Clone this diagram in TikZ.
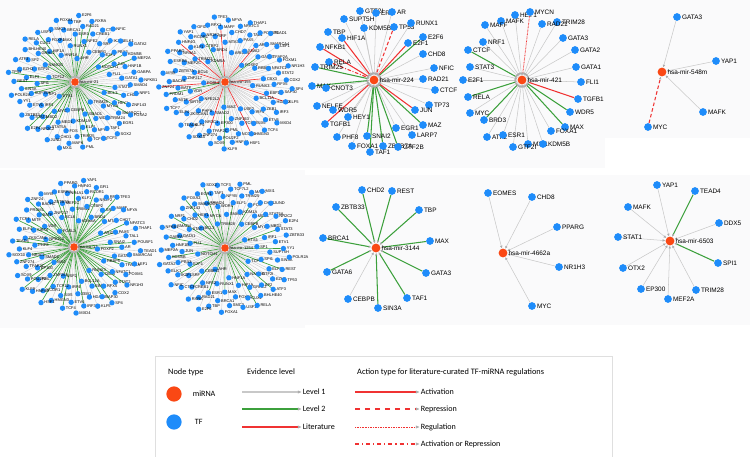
\documentclass[tikz,border=0pt]{standalone}
\usepackage{fontspec}
\setmainfont{Liberation Sans}
\newfontfamily\legfont{Carlito}
\usetikzlibrary{arrows.meta}

\definecolor{mirnacol}{RGB}{250,72,20}
\definecolor{tfcol}{RGB}{30,140,250}
\definecolor{lvlone}{RGB}{200,200,200}
\definecolor{lvltwo}{RGB}{60,160,60}
\definecolor{litred}{RGB}{240,50,50}
\definecolor{panelbg}{RGB}{250,250,251}

\pgfdeclarelayer{bg}
\pgfdeclarelayer{edges}
\pgfsetlayers{bg,edges,main}

% TF names for the big networks
\def\tflistA{ETS1,AHR,TRIM28,TCF12,NOTCH1,CEBPB,HNF1A,BCL3,SP1,CEBPG,
SMAD1,NANOG,FLI1,MYC,RUNX1,MYCN,SPI1,E2F1,KDM1A,HIF1A,
STAT1,IRF1,NFE2,WDR5,GTF2I,JUN,MED1,MAX,HEY1,SUPT5H,
SRF,ELF1,GRHL2,GATA1,MBD2,ESR1,TRIM24,ELF3,PBX3,FOS,
FOXP1,CHD2,ETV1,CREB1,NFYB,SP2,HNF1B,STAT5A,BRCA1,SMARCC1,
SIN3A,IKZF1,TRIM25,CUX1,SMAD4,STAT3,RAD21,TAF1,EZH2,KDM5B,
CHD1,SMC3,ZNF143,YY1,CTCF,TCF7L2,BHLHE40,GABPA,NR2C2,TBP,
EGR1,REST,ELK1,MAFK,USF1,NRF1,ZBTB33,RXRA,TCF3,ATF3,
MEF2A,JUND,FOXA1,FOXA2,POLR2A,NFIC,PML,RELA,NFKB1,E2F4,
E2F6,SOX2,TP53,GATA2,MXI1}
\def\tflistB{FOSL2,FOXP2,MAZ,KDM5A,RUNX3,NFE2L2,ARID3A,USF2,BCL6,RBBP5,
SMAD2,BRD4,BCL11A,VDR,SNAI2,ZNF263,TRIM22,CBX3,PHF8,MTA3,
IRF4,ZNF217,GATA3,EP300,CTBP2,EBF1,SIRT6,PAX5,TCF12,MEF2C,
NFATC1,NR3C1,SRF,ZEB1,BATF,AR,PML,KLF1,RFX5,ZKSCAN1,
CHD7,SIX5,ZBTB7A,TFAP2A,TFAP2C,NR2F2,HDAC2,MITF,TAL1,NCOR1,
NR4A1,STAT2,KLF4,MAFF,ETV6,BACH1,SMARCA4,POU2F2,RCOR1,SAP30,
ELF4,NFATC3,HMGN3,ESRRA,FOXM1,ZNF274,RFX1,IRF3,PRDM1,POU5F1,
HNF4A,HNF4G,CDX2,TEAD4,NFYA,TCF4,MYB,LEF1,SOX9,GFI1,
KLF5,TCF7,THAP1,HSF1,PPARG,NR1H3,SOX10,TFE3,MXD4,ZNF24,
TEAD1,KLF9,YAP1,SP4}

% big network: name, centre, miRNA, list, turn, green every, red every
\newcommand{\hairball}[7]{%
  \node[mirnas,label={[hlbl]right:#3}] (#1) at (#2) {};
  \foreach \n [count=\i] in #4 {
    \pgfmathsetmacro\hbang{#5+137.508*\i}
    \pgfmathsetmacro\hbrad{16+52*sqrt(\i/96)}
    \node[tfs,label={[hlbl]right:\n}] (#1-\i) at ([shift={(\hbang:\hbrad)}]#1) {};
  }
  \begin{pgfonlayer}{edges}
    \foreach \n [count=\i] in #4 {
      \pgfmathtruncatemacro\hbg{mod(\i,#6)}
      \pgfmathtruncatemacro\hbr{mod(\i,#7)}
      \ifnum\hbr=0 \draw[hbred] (#1-\i) -- (#1);
      \else\ifnum\hbg=0 \draw[hbgreen] (#1-\i) -- (#1);
      \else \draw[hbgrey] (#1-\i) -- (#1);
      \fi\fi
    }
  \end{pgfonlayer}
}

\begin{document}
\begin{tikzpicture}[x=0.03cm, y=-0.03cm,
    tf/.style={circle, fill=tfcol, inner sep=0pt, minimum size=6.6pt},
    tfs/.style={circle, fill=tfcol, inner sep=0pt, minimum size=4.6pt},
    mirna/.style={circle, fill=mirnacol, inner sep=0pt, minimum size=7.5pt},
    mirnas/.style={circle, fill=mirnacol, inner sep=0pt, minimum size=6.5pt},
    lbl/.style={font=\fontsize{5.5}{6}\selectfont, inner sep=0.6pt},
    hlbl/.style={font=\fontsize{3.4}{4}\selectfont, inner sep=0.2pt},
    arrowin/.style={-{Latex[length=2.4pt, width=2.2pt, color=gray!65]}},
    lvl1/.style={draw=lvlone, line width=0.45pt, arrowin},
    lvl2/.style={draw=lvltwo, line width=0.9pt, arrowin},
    litact/.style={draw=litred, line width=0.9pt, arrowin},
    litrep/.style={litact, dash pattern=on 3pt off 2pt},
    litreg/.style={litact, line width=0.7pt, dash pattern=on 0.6pt off 0.6pt},
    litar/.style={litact, dash pattern=on 3pt off 1.5pt on 0.8pt off 1.5pt},
    hbgrey/.style={draw=lvlone, line width=0.3pt, -{Latex[length=1.5pt, width=1.4pt, color=gray!60]}},
    hbgreen/.style={hbgrey, draw=lvltwo, line width=0.55pt},
    hbred/.style={hbgrey, draw=litred, line width=0.55pt},
    legh/.style={font=\legfont\fontsize{7.1}{8}\selectfont, inner sep=0pt},
    legt/.style={font=\legfont\fontsize{6.9}{8}\selectfont, inner sep=0.5pt},
    legline/.style={line width=1.1pt, -{Latex[length=3.5pt, width=2.8pt, color=gray!65]}}]
  \useasboundingbox (0,0) rectangle (750,457);

  % panels
  \begin{pgfonlayer}{bg}
    \fill[white] (0,0) rectangle (750,457);
    \fill[panelbg] (0,0) rectangle (150,168);
    \fill[panelbg] (150,0) rectangle (305,168);
    \fill[panelbg] (305,0) rectangle (465,168);
    \fill[panelbg] (465,0) rectangle (605,168);
    \fill[panelbg] (605,0) rectangle (750,138);
    \fill[panelbg] (0,170) rectangle (150,328);
    \fill[panelbg] (150,170) rectangle (305,328);
    \fill[panelbg] (305,175) rectangle (465,325);
    \fill[panelbg] (465,175) rectangle (605,325);
    \fill[panelbg] (605,175) rectangle (750,325);
  \end{pgfonlayer}

  % big networks
  \hairball{h1}{75,82}{hsa-mir-21}{\tflistA}{0}{3}{1000}
  \hairball{h2}{225,82}{hsa-mir-155}{\tflistB}{40}{23}{9}
  \hairball{h3}{74,247}{hsa-mir-17}{\tflistB}{90}{2}{1000}
  \hairball{h4}{225,248}{hsa-mir-1254}{\tflistA}{200}{4}{1000}

  % hsa-mir-224
  \node[mirna, label={[lbl]right:hsa-mir-224}] (p3) at (374,80) {};
  \foreach \n/\x/\y in {GTF2I/360/11, ERG/376/13, AR/392/12, SUPT5H/344/19,
      KDM5B/364/28, TP53/394/27, RUNX1/411/23, TBP/328/32, HIF1A/342/38,
      E2F6/423/37, E2F1/408/43, NFKB1/320/47, CHD8/423/54, RELA/329/62,
      TRIM25/315/67, NFIC/434/68, RAD21/423/79, MAX/312/86, CNOT3/326/88,
      CTCF/435/90, NELFE/317/106, WDR5/333/110, TP73/429/105, JUN/415/110,
      TGFB1/325/124, HEY1/348/117, EGR1/396/128, MAZ/423/125, PHF8/337/137,
      SNAI2/367/136, LARP7/412/135, FOXA1/352/146, ZBTB7A/383/146,
      GTF2B/398/147, TAF1/370/152}
    \node[tf, label={[lbl]right:\n}] (p3-\n) at (\x,\y) {};
  \begin{pgfonlayer}{edges}
    \foreach \n in {GTF2I, ERG, AR, SUPT5H, KDM5B, RUNX1, TBP, CHD8, NFIC, RAD21,
        CNOT3, CTCF, NELFE, WDR5, TP73, HEY1, EGR1, PHF8, LARP7, FOXA1}
      \draw[lvl1] (p3-\n) -- (p3);
    \foreach \n in {E2F6, TRIM25, MAX, MAZ, SNAI2, TAF1, ZBTB7A, GTF2B}
      \draw[lvl2] (p3-\n) -- (p3);
    \foreach \n in {NFKB1, HIF1A, E2F1, JUN, TGFB1}
      \draw[litact] (p3-\n) -- (p3);
    \draw[litrep] (p3-TP53) -- (p3);
    \draw[litar] (p3-RELA) -- (p3);
  \end{pgfonlayer}

  % hsa-mir-421
  \node[mirna, label={[lbl]right:hsa-mir-421}] (p4) at (522,80) {};
  \foreach \n/\x/\y in {HEY1/515/15, MYCN/530/12, MAFK/501/21, MAFF/485/25,
      TRIM28/557/22, RAD21/542/24, NRF1/483/42, GATA3/563/38, CTCF/468/50,
      GATA2/575/50, STAT3/470/67, GATA1/576/67, E2F1/463/80, FLI1/581/82,
      RELA/468/97, TGFB1/578/99, MYC/470/113, WDR5/570/112, BRD3/484/120,
      MAX/565/127, FOXA1/551/131, ATF2/487/137, ESR1/503/135, MXI1/528/144,
      KDM5B/543/144, GTF2I/513/147}
    \node[tf, label={[lbl]right:\n}] (p4-\n) at (\x,\y) {};
  \begin{pgfonlayer}{edges}
    \foreach \n in {HEY1, MAFK, MAFF, TRIM28, RAD21, NRF1, GATA3, GATA2, STAT3,
        GATA1, E2F1, FLI1, MYC, FOXA1, ATF2, ESR1, MXI1, KDM5B, GTF2I}
      \draw[lvl1] (p4-\n) -- (p4);
    \foreach \n in {CTCF, RELA, BRD3, WDR5, MAX}
      \draw[lvl2] (p4-\n) -- (p4);
    \draw[litreg] (p4-MYCN) -- (p4);
    \draw[litact] (p4-TGFB1) -- (p4);
  \end{pgfonlayer}

  % hsa-mir-548m
  \node[mirna, label={[lbl]right:hsa-mir-548m}] (p5) at (662,72) {};
  \foreach \n/\x/\y in {GATA3/677/17, YAP1/716/61, MAFK/703/112, MYC/648/127}
    \node[tf, label={[lbl]right:\n}] (p5-\n) at (\x,\y) {};
  \begin{pgfonlayer}{edges}
    \foreach \n in {GATA3, YAP1, MAFK}
      \draw[lvl1] (p5-\n) -- (p5);
    \draw[litrep] (p5-MYC) -- (p5);
  \end{pgfonlayer}

  % hsa-mir-3144
  \node[mirna, label={[lbl]right:hsa-mir-3144}] (q3) at (376,248) {};
  \foreach \n/\x/\y in {CHD2/362/190, REST/392/191, ZBTB33/336/207, TBP/419/210,
      BRCA1/323/238, MAX/430/241, GATA6/327/272, GATA3/426/273, CEBPB/348/299,
      TAF1/407/298, SIN3A/378/308}
    \node[tf, label={[lbl]right:\n}] (q3-\n) at (\x,\y) {};
  \begin{pgfonlayer}{edges}
    \foreach \n in {CHD2, REST, ZBTB33, TBP, BRCA1, MAX, GATA6, GATA3, TAF1, SIN3A}
      \draw[lvl2] (q3-\n) -- (q3);
    \draw[lvl1] (q3-CEBPB) -- (q3);
  \end{pgfonlayer}

  % hsa-mir-4662a
  \node[mirna, label={[lbl]right:hsa-mir-4662a}] (q4) at (503,253) {};
  \foreach \n/\x/\y in {EOMES/488/193, CHD8/532/197, PPARG/557/227,
      NR1H3/559/267, MYC/532/306}
    \node[tf, label={[lbl]right:\n}] (q4-\n) at (\x,\y) {};
  \begin{pgfonlayer}{edges}
    \foreach \n in {EOMES, CHD8, PPARG, NR1H3, MYC}
      \draw[lvl1] (q4-\n) -- (q4);
  \end{pgfonlayer}

  % hsa-mir-6503
  \node[mirna, label={[lbl]right:hsa-mir-6503}] (q5) at (670,241) {};
  \foreach \n/\x/\y in {YAP1/657/185, TEAD4/695/191, MAFK/628/207, DDX5/719/223,
      STAT1/618/237, SPI1/718/263, OTX2/623/268, EP300/641/289, MEF2A/668/299,
      TRIM28/696/290}
    \node[tf, label={[lbl]right:\n}] (q5-\n) at (\x,\y) {};
  \begin{pgfonlayer}{edges}
    \foreach \n in {YAP1, MAFK, DDX5, STAT1, OTX2, EP300, MEF2A, TRIM28}
      \draw[lvl1] (q5-\n) -- (q5);
    \foreach \n in {TEAD4, SPI1}
      \draw[lvl2] (q5-\n) -- (q5);
  \end{pgfonlayer}

  % legend
  \draw[gray!25, fill=white] (155,356) rectangle (612,457);
  \node[legh, anchor=west] (ntype) at (168,372) {Node type};
  \node[legh, anchor=west] (evlev) at (247,372) {Evidence level};
  \node[legh, anchor=west] (actty) at (357,372) {Action type for literature-curated TF-miRNA regulations};
  \node[circle, fill=mirnacol, inner sep=0pt, minimum size=13pt] (legmir) at (174,394) {};
  \node[legt, anchor=west] (legmirt) at (192,394) {miRNA};
  \node[circle, fill=tfcol, inner sep=0pt, minimum size=13pt] (legtf) at (174,422) {};
  \node[legt, anchor=west] (legtft) at (194,422) {TF};

  \node[legt, anchor=west] (lv1) at (302,392) {Level 1};
  \node[legt, anchor=west] (lv2) at (302,409) {Level 2};
  \node[legt, anchor=west] (lv3) at (302,427) {Literature};
  \coordinate (lv1s) at (242,392);
  \coordinate (lv2s) at (242,409);
  \coordinate (lv3s) at (242,427);
  \draw[legline, lvlone] (lv1s) -- (lv1.west);
  \draw[legline, lvltwo] (lv2s) -- (lv2.west);
  \draw[legline, litred] (lv3s) -- (lv3.west);

  \node[legt, anchor=west] (ac1) at (420,392) {Activation};
  \node[legt, anchor=west] (ac2) at (420,409) {Repression};
  \node[legt, anchor=west] (ac3) at (420,427) {Regulation};
  \node[legt, anchor=west] (ac4) at (420,444) {Activation or Repression};
  \coordinate (ac1s) at (355,392);
  \coordinate (ac2s) at (355,409);
  \coordinate (ac3s) at (355,427);
  \coordinate (ac4s) at (355,444);
  \draw[legline, litred] (ac1s) -- (ac1.west);
  \draw[legline, litred, dash pattern=on 4.5pt off 4pt] (ac2s) -- (ac2.west);
  \draw[legline, litred, line width=0.8pt, dash pattern=on 0.7pt off 0.7pt] (ac3s) -- (ac3.west);
  \draw[legline, litred, dash pattern=on 3.5pt off 2.5pt on 1pt off 2.5pt] (ac4s) -- (ac4.west);
\end{tikzpicture}
\end{document}
